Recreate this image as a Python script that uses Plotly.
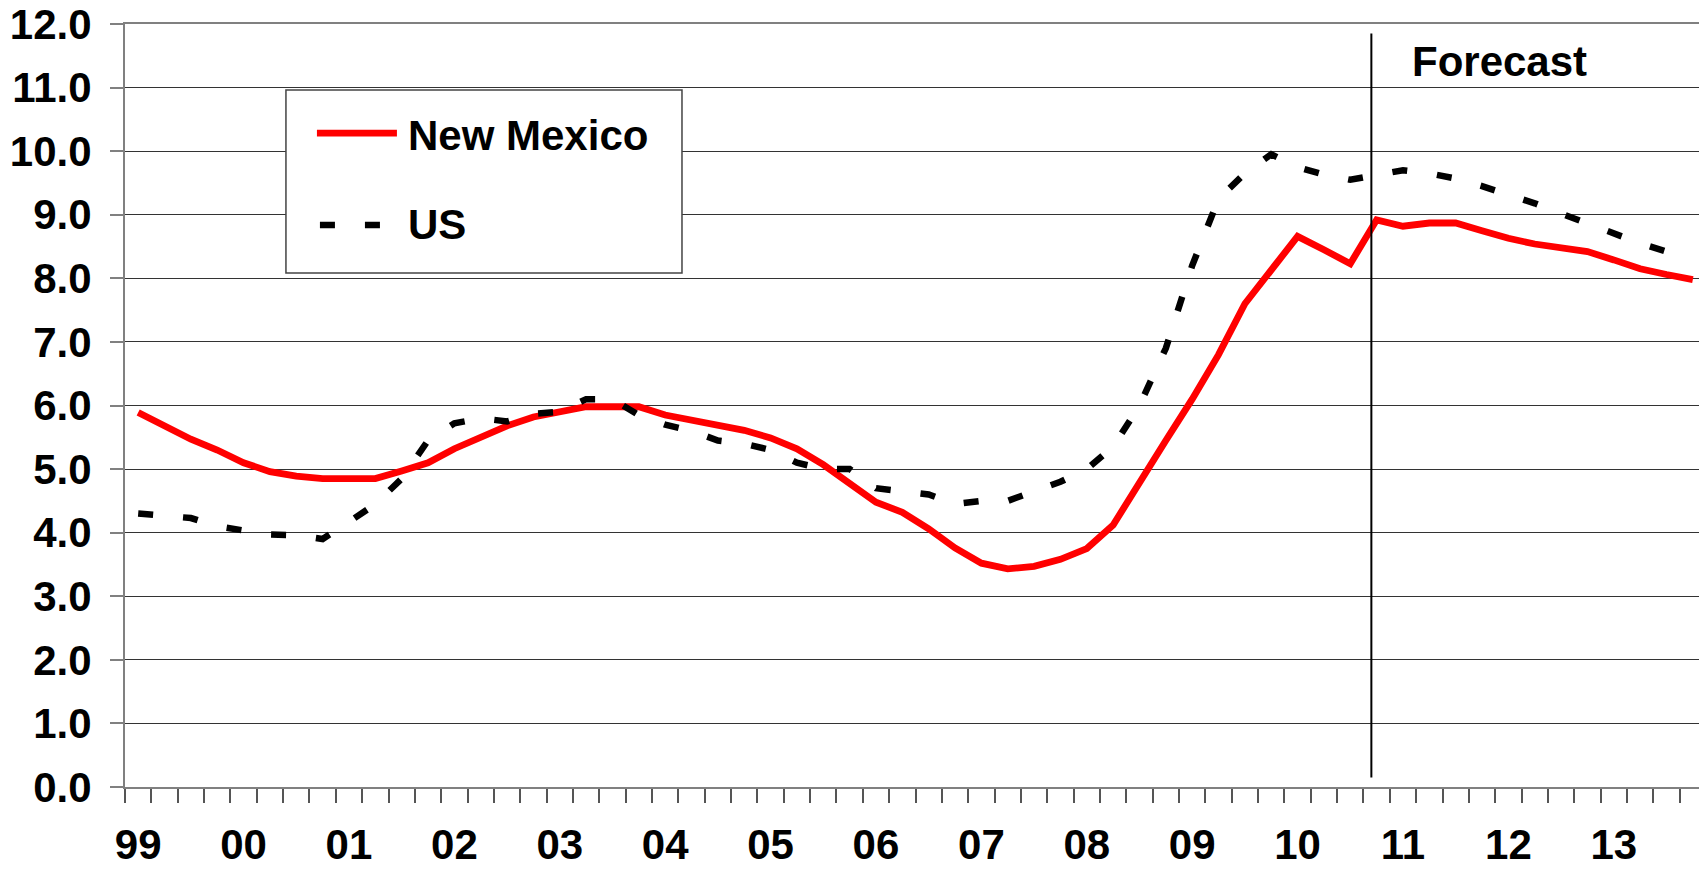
import plotly.graph_objects as go

# Quarterly unemployment rate, 1999Q1 .. 2013Q4
year_labels = ["99", "00", "01", "02", "03", "04", "05", "06", "07", "08", "09", "10", "11", "12", "13"]
quarters_per_year = 4

new_mexico = [5.89, 5.67, 5.47, 5.30, 5.10, 4.96, 4.89, 4.85, 4.85, 4.85,
              4.97, 5.10, 5.32, 5.50, 5.68, 5.82, 5.90, 5.98, 5.98, 5.98,
              5.85, 5.77, 5.69, 5.61, 5.49, 5.32, 5.07, 4.78, 4.48, 4.32,
              4.06, 3.76, 3.52, 3.43, 3.47, 3.58, 3.75, 4.12, 4.80, 5.45,
              6.10, 6.80, 7.60, 8.12, 8.66, 8.45, 8.23, 8.92, 8.82, 8.87,
              8.87, 8.75, 8.63, 8.54, 8.47, 8.42, 8.29, 8.15, 8.06, 7.98]

us = [4.30, 4.27, 4.23, 4.10, 4.03, 3.97, 3.96, 3.90, 4.17, 4.45,
      4.85, 5.45, 5.72, 5.80, 5.75, 5.87, 5.90, 6.10, 6.10, 5.85,
      5.70, 5.60, 5.45, 5.40, 5.30, 5.10, 5.00, 5.00, 4.70, 4.65,
      4.60, 4.45, 4.50, 4.50, 4.65, 4.80, 5.00, 5.35, 6.00, 6.90,
      8.20, 9.25, 9.65, 9.95, 9.75, 9.63, 9.55, 9.62, 9.70, 9.65,
      9.57, 9.45, 9.32, 9.18, 9.02, 8.86, 8.70, 8.55, 8.42, 8.30]

forecast_start = 46.8   # position of forecast divider (category index units)
y_ticks = [float(v) for v in range(0, 13)]

FONT = "Liberation Sans, Arial, sans-serif"
FS = 42
n = len(new_mexico)
x = list(range(n))

fig = go.Figure()
fig.add_trace(go.Scatter(x=x, y=new_mexico, mode="lines", name="New Mexico",
                         line=dict(color="#FF0000", width=6.8), showlegend=False))
fig.add_trace(go.Scatter(x=x, y=us, mode="lines", name="US",
                         line=dict(color="#000000", width=6.5, dash="15px,30px"), showlegend=False))

# forecast divider
fig.add_shape(type="line", xref="x", yref="y", x0=forecast_start, x1=forecast_start,
              y0=0.15, y1=11.85, line=dict(color="#000000", width=2))
fig.add_annotation(x=51.67, y=11.41, xref="x", yref="y", text="Forecast", showarrow=False,
                   xanchor="center", yanchor="middle",
                   font=dict(family=FONT, size=FS, color="#000000", weight="bold"))

# legend box (drawn manually to match the original)
fig.add_shape(type="rect", xref="paper", yref="paper", x0=0.1018, x1=0.3523, y0=0.6737, y1=0.9135,
              line=dict(color="#444444", width=1.5), fillcolor="white", layer="above")
fig.add_shape(type="line", xref="paper", yref="paper", x0=0.1214, x1=0.1720, y0=0.857, y1=0.857,
              line=dict(color="#FF0000", width=6.8), layer="above")
fig.add_shape(type="line", xref="paper", yref="paper", x0=0.1233, x1=0.1613, y0=0.7366, y1=0.7366,
              line=dict(color="#000000", width=6.5, dash="15px,30px"), layer="above")
fig.add_annotation(x=0.1777, y=0.8545, xref="paper", yref="paper", text="New Mexico", showarrow=False,
                   xanchor="left", yanchor="middle",
                   font=dict(family=FONT, size=FS, color="#000000", weight="bold"))
fig.add_annotation(x=0.1777, y=0.7366, xref="paper", yref="paper", text="US", showarrow=False,
                   xanchor="left", yanchor="middle",
                   font=dict(family=FONT, size=FS, color="#000000", weight="bold"))

# page body adds an 8px margin, so the figure is sized/offset to compensate
fig.update_layout(
    width=1699, height=862,
    margin=dict(l=117, r=1, t=16, b=83),
    paper_bgcolor="white", plot_bgcolor="white",
    font=dict(family=FONT, size=FS, color="#000000"),
)
fig.update_xaxes(
    range=[-0.5, n - 0.5], automargin=False,
    tickmode="array",
    tickvals=[i * quarters_per_year for i in range(len(year_labels))],
    ticktext=year_labels,
    ticks="", showgrid=False, zeroline=False,
    showline=True, linecolor="#808080", linewidth=2, mirror=True,
    tickfont=dict(family=FONT, size=FS, color="#000000", weight="bold"),
    ticklabelstandoff=20, ticklabeloverflow="allow",
    minor=dict(tickmode="linear", tick0=-0.5, dtick=1, ticks="outside", ticklen=14,
               tickcolor="#555555", tickwidth=1.5, showgrid=False),
)
fig.update_yaxes(
    range=[0, 12], automargin=False,
    tickmode="array", tickvals=y_ticks, ticktext=[f"{v:.1f}" for v in y_ticks],
    ticks="outside", ticklen=13, tickcolor="#808080", tickwidth=1.5,
    showgrid=True, gridcolor="#333333", gridwidth=1.2, zeroline=False,
    showline=True, linecolor="#808080", linewidth=2, mirror=True,
    tickfont=dict(family=FONT, size=FS, color="#000000", weight="bold"),
    ticklabelstandoff=10, ticklabeloverflow="allow",
)

fig.write_html("out.html")
